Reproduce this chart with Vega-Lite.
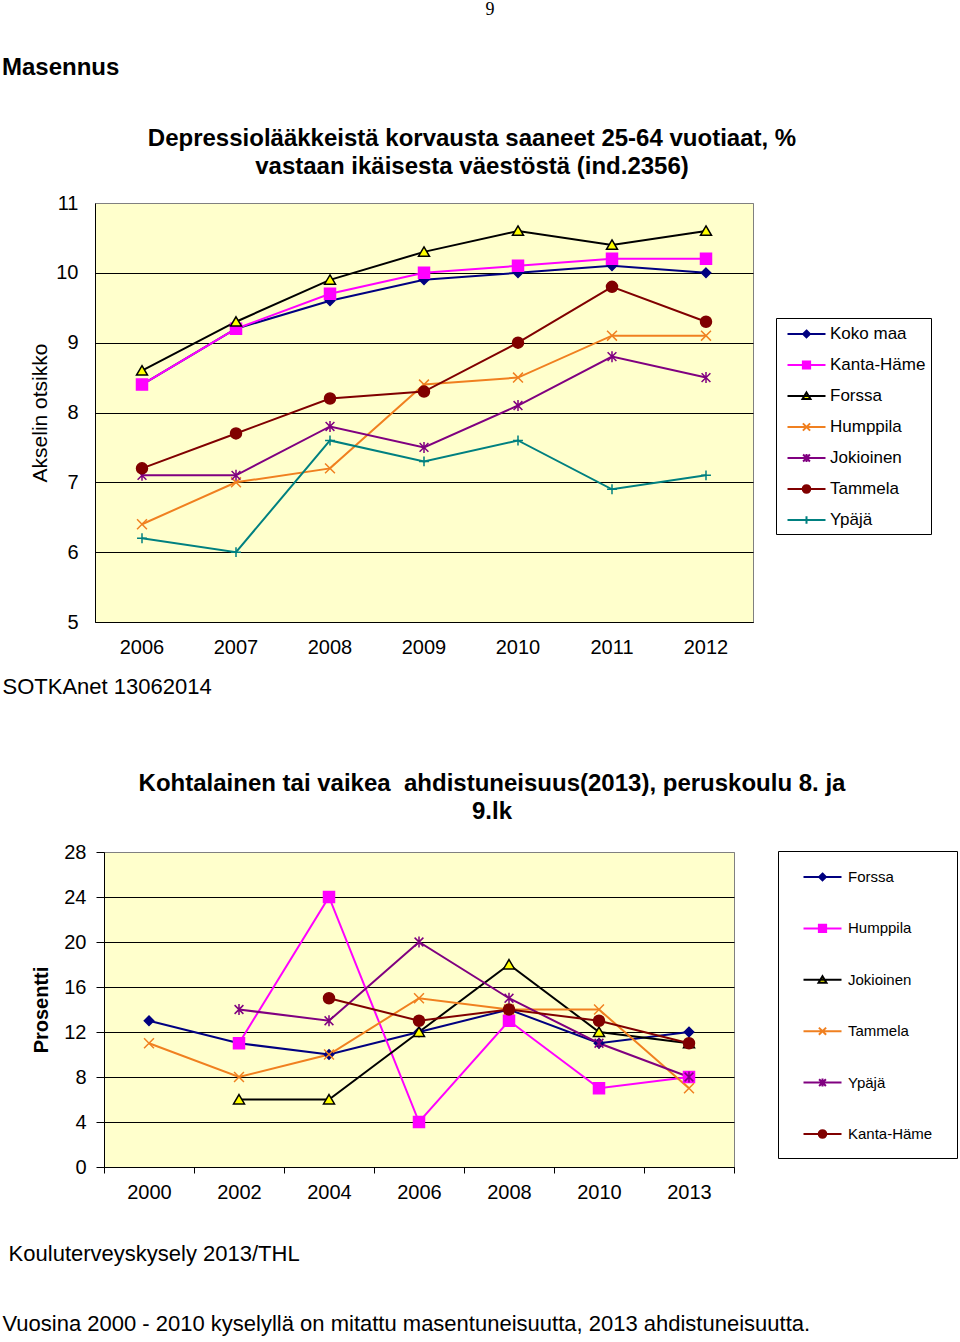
{
  "$schema": "https://vega.github.io/schema/vega-lite/v6.json",
  "padding": {"left": 1, "top": 0, "right": 0, "bottom": 0},
  "background": "white",
  "config": {"view": {"stroke": null}, "font": "Liberation Sans"},
  "datasets": {
    "top": [
      {"kunta": "Koko maa", "vuosi": "2006", "arvo": 8.4},
      {"kunta": "Koko maa", "vuosi": "2007", "arvo": 9.2},
      {"kunta": "Koko maa", "vuosi": "2008", "arvo": 9.6},
      {"kunta": "Koko maa", "vuosi": "2009", "arvo": 9.9},
      {"kunta": "Koko maa", "vuosi": "2010", "arvo": 10.0},
      {"kunta": "Koko maa", "vuosi": "2011", "arvo": 10.1},
      {"kunta": "Koko maa", "vuosi": "2012", "arvo": 10.0},
      {"kunta": "Kanta-Häme", "vuosi": "2006", "arvo": 8.4},
      {"kunta": "Kanta-Häme", "vuosi": "2007", "arvo": 9.2},
      {"kunta": "Kanta-Häme", "vuosi": "2008", "arvo": 9.7},
      {"kunta": "Kanta-Häme", "vuosi": "2009", "arvo": 10.0},
      {"kunta": "Kanta-Häme", "vuosi": "2010", "arvo": 10.1},
      {"kunta": "Kanta-Häme", "vuosi": "2011", "arvo": 10.2},
      {"kunta": "Kanta-Häme", "vuosi": "2012", "arvo": 10.2},
      {"kunta": "Forssa", "vuosi": "2006", "arvo": 8.6},
      {"kunta": "Forssa", "vuosi": "2007", "arvo": 9.3},
      {"kunta": "Forssa", "vuosi": "2008", "arvo": 9.9},
      {"kunta": "Forssa", "vuosi": "2009", "arvo": 10.3},
      {"kunta": "Forssa", "vuosi": "2010", "arvo": 10.6},
      {"kunta": "Forssa", "vuosi": "2011", "arvo": 10.4},
      {"kunta": "Forssa", "vuosi": "2012", "arvo": 10.6},
      {"kunta": "Humppila", "vuosi": "2006", "arvo": 6.4},
      {"kunta": "Humppila", "vuosi": "2007", "arvo": 7.0},
      {"kunta": "Humppila", "vuosi": "2008", "arvo": 7.2},
      {"kunta": "Humppila", "vuosi": "2009", "arvo": 8.4},
      {"kunta": "Humppila", "vuosi": "2010", "arvo": 8.5},
      {"kunta": "Humppila", "vuosi": "2011", "arvo": 9.1},
      {"kunta": "Humppila", "vuosi": "2012", "arvo": 9.1},
      {"kunta": "Jokioinen", "vuosi": "2006", "arvo": 7.1},
      {"kunta": "Jokioinen", "vuosi": "2007", "arvo": 7.1},
      {"kunta": "Jokioinen", "vuosi": "2008", "arvo": 7.8},
      {"kunta": "Jokioinen", "vuosi": "2009", "arvo": 7.5},
      {"kunta": "Jokioinen", "vuosi": "2010", "arvo": 8.1},
      {"kunta": "Jokioinen", "vuosi": "2011", "arvo": 8.8},
      {"kunta": "Jokioinen", "vuosi": "2012", "arvo": 8.5},
      {"kunta": "Tammela", "vuosi": "2006", "arvo": 7.2},
      {"kunta": "Tammela", "vuosi": "2007", "arvo": 7.7},
      {"kunta": "Tammela", "vuosi": "2008", "arvo": 8.2},
      {"kunta": "Tammela", "vuosi": "2009", "arvo": 8.3},
      {"kunta": "Tammela", "vuosi": "2010", "arvo": 9.0},
      {"kunta": "Tammela", "vuosi": "2011", "arvo": 9.8},
      {"kunta": "Tammela", "vuosi": "2012", "arvo": 9.3},
      {"kunta": "Ypäjä", "vuosi": "2006", "arvo": 6.2},
      {"kunta": "Ypäjä", "vuosi": "2007", "arvo": 6.0},
      {"kunta": "Ypäjä", "vuosi": "2008", "arvo": 7.6},
      {"kunta": "Ypäjä", "vuosi": "2009", "arvo": 7.3},
      {"kunta": "Ypäjä", "vuosi": "2010", "arvo": 7.6},
      {"kunta": "Ypäjä", "vuosi": "2011", "arvo": 6.9},
      {"kunta": "Ypäjä", "vuosi": "2012", "arvo": 7.1}
    ],
    "bottom": [
      {"kunta": "Forssa", "vuosi": "2000", "arvo": 13},
      {"kunta": "Forssa", "vuosi": "2002", "arvo": 11},
      {"kunta": "Forssa", "vuosi": "2004", "arvo": 10},
      {"kunta": "Forssa", "vuosi": "2006", "arvo": 12},
      {"kunta": "Forssa", "vuosi": "2008", "arvo": 14},
      {"kunta": "Forssa", "vuosi": "2010", "arvo": 11},
      {"kunta": "Forssa", "vuosi": "2013", "arvo": 12},
      {"kunta": "Humppila", "vuosi": "2002", "arvo": 11},
      {"kunta": "Humppila", "vuosi": "2004", "arvo": 24},
      {"kunta": "Humppila", "vuosi": "2006", "arvo": 4},
      {"kunta": "Humppila", "vuosi": "2008", "arvo": 13},
      {"kunta": "Humppila", "vuosi": "2010", "arvo": 7},
      {"kunta": "Humppila", "vuosi": "2013", "arvo": 8},
      {"kunta": "Jokioinen", "vuosi": "2002", "arvo": 6},
      {"kunta": "Jokioinen", "vuosi": "2004", "arvo": 6},
      {"kunta": "Jokioinen", "vuosi": "2006", "arvo": 12},
      {"kunta": "Jokioinen", "vuosi": "2008", "arvo": 18},
      {"kunta": "Jokioinen", "vuosi": "2010", "arvo": 12},
      {"kunta": "Jokioinen", "vuosi": "2013", "arvo": 11},
      {"kunta": "Tammela", "vuosi": "2000", "arvo": 11},
      {"kunta": "Tammela", "vuosi": "2002", "arvo": 8},
      {"kunta": "Tammela", "vuosi": "2004", "arvo": 10},
      {"kunta": "Tammela", "vuosi": "2006", "arvo": 15},
      {"kunta": "Tammela", "vuosi": "2008", "arvo": 14},
      {"kunta": "Tammela", "vuosi": "2010", "arvo": 14},
      {"kunta": "Tammela", "vuosi": "2013", "arvo": 7},
      {"kunta": "Ypäjä", "vuosi": "2002", "arvo": 14},
      {"kunta": "Ypäjä", "vuosi": "2004", "arvo": 13},
      {"kunta": "Ypäjä", "vuosi": "2006", "arvo": 20},
      {"kunta": "Ypäjä", "vuosi": "2008", "arvo": 15},
      {"kunta": "Ypäjä", "vuosi": "2010", "arvo": 11},
      {"kunta": "Ypäjä", "vuosi": "2013", "arvo": 8},
      {"kunta": "Kanta-Häme", "vuosi": "2004", "arvo": 15},
      {"kunta": "Kanta-Häme", "vuosi": "2006", "arvo": 13},
      {"kunta": "Kanta-Häme", "vuosi": "2008", "arvo": 14},
      {"kunta": "Kanta-Häme", "vuosi": "2010", "arvo": 13},
      {"kunta": "Kanta-Häme", "vuosi": "2013", "arvo": 11}
    ]
  },
  "spacing": 0,
  "vconcat": [
    {
      "width": 1,
      "height": 17.6,
      "data": {"values": [{"t": "9"}]},
      "mark": {"type": "text", "font": "Liberation Serif", "fontSize": 18, "align": "center", "baseline": "alphabetic", "dx": 394.5, "color": "black"},
      "encoding": {"text": {"field": "t", "type": "nominal"}}
    },
    {
      "width": 1,
      "height": 101.6,
      "data": {"values": [{"t": "Masennus"}]},
      "mark": {"type": "text", "font": "Liberation Sans", "fontSize": 24, "fontWeight": "bold", "align": "left", "baseline": "alphabetic", "dx": -93.5, "color": "black"},
      "encoding": {"text": {"field": "t", "type": "nominal"}}
    },
    {
      "width": 658,
      "height": 419,
      "view": {"fill": "#FFFFCC", "stroke": "#808080", "strokeWidth": 1},
      "data": {"name": "top"},
      "title": {
        "text": ["Depressiolääkkeistä korvausta saaneet 25-64 vuotiaat, %", "vastaan ikäisesta väestöstä (ind.2356)"],
        "font": "Liberation Sans", "fontSize": 24, "fontWeight": "bold", "color": "black",
        "anchor": "middle", "frame": "group", "dx": 48, "offset": 14, "lineHeight": 28
      },
      "encoding": {
        "x": {
          "field": "vuosi", "type": "ordinal",
          "scale": {"type": "band", "paddingInner": 0, "paddingOuter": 0},
          "axis": {
            "title": ["SOTKAnet 13062014", "\u2800"],
            "titleX": -93, "titleY": 71, "titleAlign": "left", "titleAnchor": "start", "titleBaseline": "alphabetic",
            "titleFont": "Liberation Sans", "titleFontSize": 22, "titleFontWeight": "normal", "titleColor": "black", "titleLineHeight": 73.4,
            "labelAngle": 0, "labelFont": "Liberation Sans", "labelFontSize": 20, "labelColor": "black", "labelPadding": 15,
            "ticks": false, "tickSize": 0, "domainColor": "black", "domainWidth": 1, "grid": false
          }
        },
        "y": {
          "field": "arvo", "type": "quantitative",
          "scale": {"domain": [5, 11], "nice": false, "zero": false},
          "axis": {
            "values": [5, 6, 7, 8, 9, 10, 11],
            "title": "Akselin otsikko", "titleFont": "Liberation Sans", "titleFontSize": 21, "titleFontWeight": "normal", "titleColor": "black", "titlePadding": 5,
            "labelFont": "Liberation Sans", "labelFontSize": 20, "labelColor": "black", "labelPadding": 17,
            "ticks": false, "tickSize": 0, "domainColor": "black", "domainWidth": 1,
            "grid": true, "gridOpacity": 1, "gridWidth": 1,
            "gridColor": {"condition": {"test": "datum.value >= 11", "value": "#808080"}, "value": "#000000"}
          }
        }
      },
      "layer": [
        {
          "mark": {"type": "line", "strokeWidth": 2},
          "encoding": {
            "stroke": {
              "field": "kunta", "type": "nominal",
              "scale": {"domain": ["Koko maa", "Kanta-Häme", "Forssa", "Humppila", "Jokioinen", "Tammela", "Ypäjä"],
                        "range": ["#000080", "#FF00FF", "#000000", "#F08020", "#800080", "#800000", "#008080"]},
              "legend": null
            }
          }
        },
        {
          "mark": {"type": "point", "size": 121, "strokeWidth": 1.5, "opacity": 1},
          "encoding": {
            "shape": {
              "field": "kunta", "type": "nominal",
              "scale": {"domain": ["Koko maa", "Kanta-Häme", "Forssa", "Humppila", "Jokioinen", "Tammela", "Ypäjä"],
                        "range": ["M0,-0.85L0.85,0L0,0.85L-0.85,0Z", "M-1,-1H1V1H-1Z", "M0,-0.9L1,0.8H-1Z", "M-0.9,-0.9L0.9,0.9M-0.9,0.9L0.9,-0.9", "M-0.8,-0.8L0.8,0.8M-0.8,0.8L0.8,-0.8M0,-1V1", "circle", "M-0.9,0H0.9M0,-0.9V0.9"]},
              "legend": null
            },
            "fill": {
              "field": "kunta", "type": "nominal",
              "scale": {"domain": ["Koko maa", "Kanta-Häme", "Forssa", "Humppila", "Jokioinen", "Tammela", "Ypäjä"],
                        "range": ["#000080", "#FF00FF", "#FFFF00", "transparent", "transparent", "#800000", "transparent"]},
              "legend": null
            },
            "stroke": {
              "field": "kunta", "type": "nominal",
              "scale": {"domain": ["Koko maa", "Kanta-Häme", "Forssa", "Humppila", "Jokioinen", "Tammela", "Ypäjä"],
                        "range": ["#000080", "#FF00FF", "#000000", "#F08020", "#800080", "#800000", "#008080"]},
              "legend": null
            }
          }
        },
        {
          "transform": [{"filter": "false"}],
          "mark": {"type": "point", "opacity": 1},
          "encoding": {
            "shape": {
              "field": "kunta", "type": "nominal",
              "scale": {"domain": ["Koko maa", "Kanta-Häme", "Forssa", "Humppila", "Jokioinen", "Tammela", "Ypäjä"],
                        "range": ["M-2,0H2M0,-0.36L0.36,0L0,0.36L-0.36,0Z", "M-2,0H2M-0.38,-0.38H0.38V0.38H-0.38Z", "M-2,0H2M0,-0.38L0.42,0.32H-0.42Z", "M-2,0H2M-0.38,-0.38L0.38,0.38M-0.38,0.38L0.38,-0.38", "M-2,0H2M-0.36,-0.36L0.36,0.36M-0.36,0.36L0.36,-0.36M0,-0.42V0.42", "M-2,0H2M-0.4,0A0.4,0.4,0,1,1,0.4,0A0.4,0.4,0,1,1,-0.4,0Z", "M-2,0H2M0,-0.4V0.4"]},
              "legend": {"title": null, "orient": "none", "legendX": 681, "legendY": 115, "padding": 5.5, "rowPadding": 12, "symbolSize": 361, "symbolStrokeWidth": 2, "symbolOffset": 14.5, "labelOffset": 13, "labelFont": "Liberation Sans", "labelFontSize": 17, "labelColor": "black", "strokeColor": "black", "fillColor": "white", "cornerRadius": 0}
            },
            "fill": {
              "field": "kunta", "type": "nominal",
              "scale": {"domain": ["Koko maa", "Kanta-Häme", "Forssa", "Humppila", "Jokioinen", "Tammela", "Ypäjä"],
                        "range": ["#000080", "#FF00FF", "#FFFF00", "transparent", "transparent", "#800000", "transparent"]},
              "legend": {"title": null, "orient": "none", "legendX": 681, "legendY": 115, "padding": 5.5, "rowPadding": 12, "symbolSize": 361, "symbolStrokeWidth": 2, "symbolOffset": 14.5, "labelOffset": 13, "labelFont": "Liberation Sans", "labelFontSize": 17, "labelColor": "black", "strokeColor": "black", "fillColor": "white", "cornerRadius": 0}
            },
            "stroke": {
              "field": "kunta", "type": "nominal",
              "scale": {"domain": ["Koko maa", "Kanta-Häme", "Forssa", "Humppila", "Jokioinen", "Tammela", "Ypäjä"],
                        "range": ["#000080", "#FF00FF", "#000000", "#F08020", "#800080", "#800000", "#008080"]},
              "legend": {"title": null, "orient": "none", "legendX": 681, "legendY": 115, "padding": 5.5, "rowPadding": 12, "symbolSize": 361, "symbolStrokeWidth": 2, "symbolOffset": 14.5, "labelOffset": 13, "labelFont": "Liberation Sans", "labelFontSize": 17, "labelColor": "black", "strokeColor": "black", "fillColor": "white", "cornerRadius": 0}
            }
          }
        }
      ],
      "resolve": {"scale": {"shape": "independent", "fill": "independent", "stroke": "independent"}}
    },
    {
      "bounds": "flush",
      "spacing": 8,
      "hconcat": [
        {
          "width": 1,
          "height": 1,
          "data": {"values": []},
          "mark": {"type": "point"},
          "encoding": {}
        },
        {
          "width": 630,
          "height": 315,
          "view": {"fill": "#FFFFCC", "stroke": "#808080", "strokeWidth": 1},
          "data": {"name": "bottom"},
          "title": {
            "text": ["Kohtalainen tai vaikea \u00a0ahdistuneisuus(2013), peruskoulu 8. ja", "9.lk"],
            "font": "Liberation Sans", "fontSize": 24, "fontWeight": "bold", "color": "black",
            "anchor": "middle", "frame": "group", "dx": 73, "offset": 18, "lineHeight": 28
          },
          "encoding": {
            "x": {
              "field": "vuosi", "type": "ordinal",
              "scale": {"type": "band", "paddingInner": 0, "paddingOuter": 0},
              "axis": {
                "title": ["\u200b\u00a0Kouluterveyskysely 2013/THL", "Vuosina 2000 - 2010 kyselyllä on mitattu masentuneisuutta, 2013 ahdistuneisuutta."],
                "titleX": -102, "titleY": 93.7, "titleAlign": "left", "titleAnchor": "start", "titleBaseline": "alphabetic",
                "titleFont": "Liberation Sans", "titleFontSize": 22, "titleFontWeight": "normal", "titleColor": "black", "titleLineHeight": 70,
                "labelAngle": 0, "labelFont": "Liberation Sans", "labelFontSize": 20, "labelColor": "black", "labelPadding": 9,
                "ticks": true, "tickBand": "extent", "tickSize": 6, "tickColor": "black", "domainColor": "black", "domainWidth": 1, "grid": false
              }
            },
            "y": {
              "field": "arvo", "type": "quantitative",
              "scale": {"domain": [0, 28], "nice": false, "zero": true},
              "axis": {
                "values": [0, 4, 8, 12, 16, 20, 24, 28],
                "title": "Prosentti", "titleFont": "Liberation Sans", "titleFontSize": 20, "titleFontWeight": "bold", "titleColor": "black", "titlePadding": 12,
                "labelFont": "Liberation Sans", "labelFontSize": 20, "labelColor": "black", "labelPadding": 10,
                "ticks": true, "tickSize": 8, "tickColor": "black", "domainColor": "black", "domainWidth": 1,
                "grid": true, "gridOpacity": 1, "gridWidth": 1,
                "gridColor": {"condition": {"test": "datum.value >= 28", "value": "#808080"}, "value": "#000000"}
              }
            }
          },
          "layer": [
            {
              "mark": {"type": "line", "strokeWidth": 2},
              "encoding": {
                "stroke": {
                  "field": "kunta", "type": "nominal",
                  "scale": {"domain": ["Forssa", "Humppila", "Jokioinen", "Tammela", "Ypäjä", "Kanta-Häme"],
                            "range": ["#000080", "#FF00FF", "#000000", "#F08020", "#800080", "#800000"]},
                  "legend": null
                }
              }
            },
            {
              "mark": {"type": "point", "size": 121, "strokeWidth": 1.5, "opacity": 1},
              "encoding": {
                "shape": {
                  "field": "kunta", "type": "nominal",
                  "scale": {"domain": ["Forssa", "Humppila", "Jokioinen", "Tammela", "Ypäjä", "Kanta-Häme"],
                            "range": ["M0,-0.85L0.85,0L0,0.85L-0.85,0Z", "M-1,-1H1V1H-1Z", "M0,-0.9L1,0.8H-1Z", "M-0.9,-0.9L0.9,0.9M-0.9,0.9L0.9,-0.9", "M-0.8,-0.8L0.8,0.8M-0.8,0.8L0.8,-0.8M0,-1V1", "circle"]},
                  "legend": null
                },
                "fill": {
                  "field": "kunta", "type": "nominal",
                  "scale": {"domain": ["Forssa", "Humppila", "Jokioinen", "Tammela", "Ypäjä", "Kanta-Häme"],
                            "range": ["#000080", "#FF00FF", "#FFFF00", "transparent", "transparent", "#800000"]},
                  "legend": null
                },
                "stroke": {
                  "field": "kunta", "type": "nominal",
                  "scale": {"domain": ["Forssa", "Humppila", "Jokioinen", "Tammela", "Ypäjä", "Kanta-Häme"],
                            "range": ["#000080", "#FF00FF", "#000000", "#F08020", "#800080", "#800000"]},
                  "legend": null
                }
              }
            },
            {
              "transform": [{"filter": "false"}],
              "mark": {"type": "point", "opacity": 1},
              "encoding": {
                "shape": {
                  "field": "kunta", "type": "nominal",
                  "scale": {"domain": ["Forssa", "Humppila", "Jokioinen", "Tammela", "Ypäjä", "Kanta-Häme"],
                            "range": ["M-2,0H2M0,-0.36L0.36,0L0,0.36L-0.36,0Z", "M-2,0H2M-0.38,-0.38H0.38V0.38H-0.38Z", "M-2,0H2M0,-0.38L0.42,0.32H-0.42Z", "M-2,0H2M-0.38,-0.38L0.38,0.38M-0.38,0.38L0.38,-0.38", "M-2,0H2M-0.36,-0.36L0.36,0.36M-0.36,0.36L0.36,-0.36M0,-0.42V0.42", "M-2,0H2M-0.4,0A0.4,0.4,0,1,1,0.4,0A0.4,0.4,0,1,1,-0.4,0Z"]},
                  "legend": {"title": null, "orient": "none", "legendX": 674, "legendY": -1, "padding": 15.5, "rowPadding": 32.4, "symbolSize": 361, "symbolStrokeWidth": 2, "symbolOffset": 18.5, "labelOffset": 15, "labelExpr": "datum.label + '\u00a0\u00a0\u200b'", "labelFont": "Liberation Sans", "labelFontSize": 15, "labelColor": "black", "strokeColor": "black", "fillColor": "white", "cornerRadius": 0}
                },
                "fill": {
                  "field": "kunta", "type": "nominal",
                  "scale": {"domain": ["Forssa", "Humppila", "Jokioinen", "Tammela", "Ypäjä", "Kanta-Häme"],
                            "range": ["#000080", "#FF00FF", "#FFFF00", "transparent", "transparent", "#800000"]},
                  "legend": {"title": null, "orient": "none", "legendX": 674, "legendY": -1, "padding": 15.5, "rowPadding": 32.4, "symbolSize": 361, "symbolStrokeWidth": 2, "symbolOffset": 18.5, "labelOffset": 15, "labelExpr": "datum.label + '\u00a0\u00a0\u200b'", "labelFont": "Liberation Sans", "labelFontSize": 15, "labelColor": "black", "strokeColor": "black", "fillColor": "white", "cornerRadius": 0}
                },
                "stroke": {
                  "field": "kunta", "type": "nominal",
                  "scale": {"domain": ["Forssa", "Humppila", "Jokioinen", "Tammela", "Ypäjä", "Kanta-Häme"],
                            "range": ["#000080", "#FF00FF", "#000000", "#F08020", "#800080", "#800000"]},
                  "legend": {"title": null, "orient": "none", "legendX": 674, "legendY": -1, "padding": 15.5, "rowPadding": 32.4, "symbolSize": 361, "symbolStrokeWidth": 2, "symbolOffset": 18.5, "labelOffset": 15, "labelExpr": "datum.label + '\u00a0\u00a0\u200b'", "labelFont": "Liberation Sans", "labelFontSize": 15, "labelColor": "black", "strokeColor": "black", "fillColor": "white", "cornerRadius": 0}
                }
              }
            }
          ],
          "resolve": {"scale": {"shape": "independent", "fill": "independent", "stroke": "independent"}}
        }
      ]
    }
  ]
}
